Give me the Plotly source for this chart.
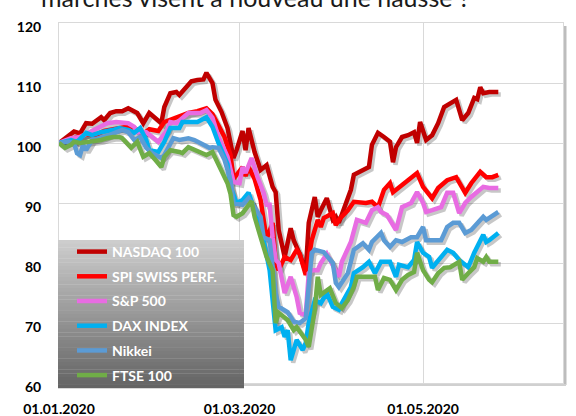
import plotly.graph_objects as go
import pandas as pd

# ---------------- data ----------------
START = pd.Timestamp("2020-01-01")
tick_dates = ["2020-01-01", "2020-03-01", "2020-05-01"]
tick_labels = ["01.01.2020", "01.03.2020", "01.05.2020"]
y_ticks = [60, 70, 80, 90, 100, 110, 120]

series_names = ["NASDAQ 100", "SPI SWISS PERF.", "S&P 500", "DAX INDEX", "Nikkei", "FTSE 100"]
series_colors = ["#C00000", "#FF0000", "#E86CE2", "#00B0F0", "#5B9BD5", "#70AD47"]

# days since 01.01.2020, rebased index values (01.01.2020 = 100)
nasdaq_days = [0, 5, 7, 9, 11, 14, 15, 17, 19, 21, 23, 26, 28, 29, 30, 34, 35, 37, 39, 40, 43, 44, 46, 48, 49,
               51, 52, 54, 56, 57, 58, 59, 61, 62, 63, 65, 67, 69, 71, 72, 73, 75, 77, 78, 80, 82, 83, 85, 86,
               87, 89, 91, 92, 93, 95, 97, 98, 99, 101, 103, 104, 106, 108, 110, 111, 112, 114, 116, 118, 119,
               120, 122, 124, 126, 128, 131, 132, 134, 136, 138, 139, 140, 141, 143, 146]
nasdaq_vals = [100, 101.9, 101.6, 103.3, 103.2, 104.3, 103.8, 105, 105.3, 105.3, 105.8, 105, 103.3, 104.3, 105,
               103.3, 106, 108.3, 108.5, 108, 109.7, 110.3, 110.5, 110.6, 111.7, 110, 107.2, 105.2, 102.5, 100,
               97.5, 98.8, 102, 98.8, 102.5, 98.5, 95.5, 96.3, 92.7, 91.8, 85.5, 81, 85.8, 83.8, 81.5, 78.5, 86.7,
               91, 87.7, 88.8, 90.8, 87.2, 87.7, 86.7, 89.3, 92.2, 94.7, 95, 95.5, 96, 99.7, 101.7, 101, 100.2,
               96.8, 99.3, 101, 101.3, 101.8, 100, 103.5, 100.5, 101.3, 103.3, 106, 106.8, 107.2, 103.8, 105,
               107.5, 107.3, 109.3, 108.3, 108.5, 108.5]

spi_days = [0, 3, 6, 9, 12, 15, 18, 21, 24, 26, 28, 30, 33, 35, 38, 40, 43, 46, 49, 51, 53, 55, 57, 58, 61, 62,
            63, 65, 67, 69, 71, 72, 73, 75, 77, 79, 80, 81, 82, 84, 86, 87, 88, 91, 92, 93, 96, 98, 102, 104,
            106, 108, 110, 111, 113, 116, 119, 121, 124, 126, 129, 132, 135, 137, 140, 142, 144, 146]
spi_vals = [100, 100.5, 101, 101.5, 101.3, 102, 102.3, 102.5, 102.8, 102.2, 101.5, 102.3, 102, 103.5, 104, 104.5,
            105, 105.3, 105.8, 104.8, 103, 101, 98, 94, 96, 94.5, 96, 94, 90.5, 84, 86.7, 80, 78.8, 81, 80.5,
            82.2, 81.5, 80, 78, 83.8, 87.2, 86, 87.5, 88.3, 86.3, 87.2, 88.8, 90.2, 90, 90.2, 89.3, 92.2, 93.3,
            91.8, 92.7, 93.8, 95, 92.7, 90.8, 92.5, 93.8, 94.3, 91.7, 93.3, 95.2, 94.3, 94.3, 94.7]

sp500_days = [0, 4, 7, 10, 14, 16, 19, 23, 25, 26, 29, 33, 36, 37, 39, 41, 43, 47, 49, 51, 53, 56, 58, 60, 61,
              62, 64, 66, 68, 69, 70, 71, 72, 73, 75, 77, 79, 80, 82, 83, 84, 86, 87, 89, 91, 93, 94, 97, 99,
              102, 104, 106, 107, 109, 112, 114, 117, 119, 121, 122, 124, 127, 129, 131, 133, 135, 137, 140,
              141, 143, 146]
sp500_vals = [100, 100.8, 101, 101.8, 102.7, 103.3, 103.5, 103.3, 102.7, 101.8, 101.8, 100.2, 102.2, 103.5,
              103.3, 104.2, 105, 105, 105.5, 104.2, 101, 97.7, 93.5, 93.3, 96, 95, 97.5, 94.3, 91.7, 89.7, 89.7,
              84.3, 80.5, 80, 75, 77.7, 74.3, 71.7, 71.3, 78.3, 78.8, 78.8, 80, 81.5, 79.7, 77.7, 80.2, 83.5,
              87.2, 86.7, 88.8, 89.3, 88.5, 88, 85.5, 89.3, 90, 91.8, 90, 88.5, 88.8, 89.3, 91.7, 91.7, 88.3, 90,
              91, 92.2, 92.7, 92.5, 92.5]

dax_days = [0, 4, 6, 9, 11, 14, 18, 20, 23, 25, 27, 29, 30, 33, 35, 37, 40, 41, 43, 46, 49, 51, 53, 56, 57, 59,
            61, 63, 65, 67, 68, 70, 71, 72, 74, 75, 76, 77, 79, 81, 82, 83, 85, 87, 89, 91, 93, 94, 97, 98, 101,
            103, 105, 107, 110, 112, 113, 116, 118, 119, 121, 123, 124, 127, 129, 131, 133, 136, 138, 141, 142,
            143, 146]
dax_vals = [100, 100.5, 100.2, 101.7, 101.3, 101.8, 102.2, 102.5, 102.2, 101.7, 102.5, 100.5, 98.8, 98.5, 100.2,
            102.5, 102.5, 103.5, 103.5, 103.5, 104.3, 102.7, 100, 96.5, 92.7, 90, 90.5, 91.7, 88.8, 85, 83.8,
            78.8, 72.7, 68.8, 69.3, 67.7, 68.8, 63.8, 67.2, 65.5, 66.7, 70, 73.8, 73.3, 75, 72.7, 72.2, 73.3, 76,
            78.3, 79.3, 80.2, 78.3, 80.2, 80.2, 77.7, 79.7, 79.3, 80.5, 83.5, 81.7, 81, 79.2, 81, 82.2, 81.7,
            80.5, 79.3, 81.7, 84.7, 83.5, 83.8, 85]

nikkei_days = [0, 3, 5, 6, 7, 8, 9, 11, 15, 19, 21, 23, 25, 27, 29, 31, 34, 35, 38, 40, 43, 45, 48, 50, 51, 53,
               55, 57, 58, 61, 63, 65, 67, 68, 70, 72, 73, 76, 78, 80, 82, 84, 85, 88, 91, 92, 93, 96, 98, 101,
               103, 104, 107, 108, 110, 112, 114, 117, 119, 121, 122, 124, 127, 129, 131, 133, 135, 137, 139,
               141, 142, 146]
nikkei_vals = [100, 100.2, 100, 98.3, 98, 99.7, 98.8, 100.5, 101, 101.8, 102.2, 101.8, 100.5, 101, 99.2, 98.3,
               97.5, 98, 100.8, 100.5, 100.8, 100.5, 99.7, 99.2, 99.3, 99.2, 97.2, 93.8, 90, 89.7, 90.8, 89.3,
               87.7, 84.3, 83.8, 75, 72.7, 71.8, 70.2, 70, 70.8, 81.7, 82.2, 81.8, 80, 76.7, 76, 78.3, 82.2, 83.3,
               82.2, 83.5, 85, 83.8, 82.7, 83.8, 83.5, 84.3, 84.3, 86, 83.8, 83.8, 83.8, 86, 86.7, 86.7, 85, 85.5,
               86.7, 87.7, 87.2, 88.5]

ftse_days = [0, 2, 4, 5, 7, 10, 14, 16, 18, 20, 21, 24, 26, 28, 30, 32, 34, 35, 37, 40, 41, 43, 45, 47, 49, 51,
             52, 54, 56, 57, 58, 59, 61, 64, 65, 67, 69, 71, 72, 73, 75, 76, 78, 79, 82, 83, 85, 86, 87, 90, 92,
             94, 96, 98, 99, 102, 105, 106, 108, 110, 112, 114, 116, 118, 119, 121, 123, 124, 126, 128, 130, 133,
             134, 136, 138, 139, 141, 142, 143, 146]
ftse_vals = [100, 99.2, 99.7, 100.2, 100, 100.2, 100.5, 100.8, 101, 101, 100.8, 99.2, 100.2, 97.7, 98.3, 97.2, 96,
             97.7, 98.8, 98.5, 98.3, 99.3, 98.8, 98.3, 98, 98.5, 97.5, 95.5, 93.3, 91.5, 88, 87.7, 88.3, 90.3,
             87.7, 84.3, 81, 78.8, 70, 71.7, 71, 70.5, 68.8, 69.3, 67.2, 66, 72.2, 77.7, 74.7, 75.8, 73.3, 72.5,
             73.8, 76, 77.7, 77.7, 77.7, 75.5, 77.5, 77.2, 75.5, 77.2, 78, 78.5, 81.7, 78.8, 77.2, 76.8, 78.3,
             79.2, 79.3, 80.2, 77.2, 78.3, 79.3, 80.8, 80.2, 81, 80.2, 80.2]

series_days = [nasdaq_days, spi_days, sp500_days, dax_days, nikkei_days, ftse_days]
series_vals = [nasdaq_vals, spi_vals, sp500_vals, dax_vals, nikkei_vals, ftse_vals]

title_text = "marchés visent à nouveau une hausse ?"

# ---------------- layout geometry ----------------
W, H = 576, 416
ML, MR, MT, MB = 59, 13, 23, 33
PW, PH = W - ML - MR, H - MT - MB
x_range = [START, pd.Timestamp("2020-06-16 12:00")]
y_range = [60, 120]
SHADOW_PX = 2.5
dx = (x_range[1] - x_range[0]) * (SHADOW_PX / PW)
dy = (y_range[1] - y_range[0]) * (SHADOW_PX / PH)

FONT = "Lato"
LINE_W = 4.5

fig = go.Figure()

# shadows: base axes, hidden, range shifted by a couple of pixels
for days, vals in zip(series_days, series_vals):
    xs = START + pd.to_timedelta(days, unit="D")
    fig.add_trace(go.Scatter(x=xs, y=vals, mode="lines", xaxis="x", yaxis="y",
                             line=dict(color="rgba(0,0,0,0.22)", width=LINE_W),
                             showlegend=False, hoverinfo="skip"))

# main lines on the visible overlay axes
for i, (name, color, days, vals) in enumerate(zip(series_names, series_colors, series_days, series_vals)):
    xs = START + pd.to_timedelta(days, unit="D")
    fig.add_trace(go.Scatter(x=xs, y=vals, mode="lines", name=name, xaxis="x2", yaxis="y2",
                             legendgroup=f"g{i}",
                             line=dict(color=color, width=LINE_W)))

# legend background gradient (stacked strips in paper coordinates)
lg_x0, lg_x1 = (58 - ML) / PW, (244 - ML) / PW
lg_top, lg_bot = (H - MB - 240) / PH, (H - MB - 388) / PH
n_strips = 40
c_top, c_bot = (205, 205, 205), (100, 100, 100)
shapes = []
for k in range(n_strips):
    t = k / (n_strips - 1)
    c = tuple(round(a + (b - a) * t) for a, b in zip(c_top, c_bot))
    y1 = lg_top - (lg_top - lg_bot) * k / n_strips
    y0 = lg_top - (lg_top - lg_bot) * (k + 1) / n_strips - 0.001
    shapes.append(dict(type="rect", xref="paper", yref="paper", x0=lg_x0, x1=lg_x1, y0=y0, y1=y1,
                       fillcolor=f"rgb{c}", line=dict(width=0), layer="above"))

# plot-area shadow on right and bottom
shapes.append(dict(type="line", xref="paper", yref="paper", x0=1 + 2 / PW, x1=1 + 2 / PW,
                   y0=-2 / PH, y1=1 - 3 / PH, line=dict(color="#bdbdbd", width=3), layer="below"))
shapes.append(dict(type="line", xref="paper", yref="paper", x0=2 / PW, x1=1 + 3 / PW,
                   y0=-2 / PH, y1=-2 / PH, line=dict(color="#d0d0d0", width=2), layer="below"))

axis_font = dict(family=FONT, size=14, color="black", weight="bold")

fig.update_layout(
    width=W, height=H,
    margin=dict(l=ML, r=MR, t=MT, b=MB, pad=0, autoexpand=False),
    paper_bgcolor="white", plot_bgcolor="white",
    showlegend=True,
    legend=dict(x=(72 - ML) / PW, xanchor="left", y=(H - MB - 236) / PH, yanchor="top",
                bgcolor="rgba(0,0,0,0)", borderwidth=0,
                font=dict(family=FONT, size=14, color="white", weight="bold"),
                tracegroupgap=3.5, itemwidth=30),
    xaxis=dict(range=[x_range[0] - dx, x_range[1] - dx], type="date", visible=False,
               showgrid=False, zeroline=False),
    yaxis=dict(range=[y_range[0] + dy, y_range[1] + dy], visible=False, showgrid=False, zeroline=False),
    xaxis2=dict(range=x_range, type="date", overlaying="x", anchor="y2", side="bottom",
                tickvals=tick_dates, ticktext=tick_labels,
                tickfont=axis_font, showgrid=True, gridcolor="#d9d9d9", gridwidth=1,
                showline=True, linecolor="#d9d9d9", mirror=True, ticks="", ticklabelstandoff=13,
                zeroline=False),
    yaxis2=dict(range=y_range, overlaying="y", anchor="x2", side="left", tickvals=y_ticks,
                tickfont=axis_font, showgrid=True,
                gridcolor="#d9d9d9", gridwidth=1, showline=True, linecolor="#d9d9d9", mirror=True,
                ticks="", ticklabelstandoff=14, ticklabelshift=4, zeroline=False),
    shapes=shapes,
    annotations=[dict(text=title_text, xref="paper", yref="paper", x=(255 - ML) / PW, y=1,
                      xanchor="center", yanchor="bottom", yshift=9, showarrow=False,
                      font=dict(family=FONT, size=25, color="#1a1a1a"))],
)

fig.write_html("out.html", config={"displayModeBar": False},
               post_script="document.body.style.margin='0';document.body.style.padding='0';")
